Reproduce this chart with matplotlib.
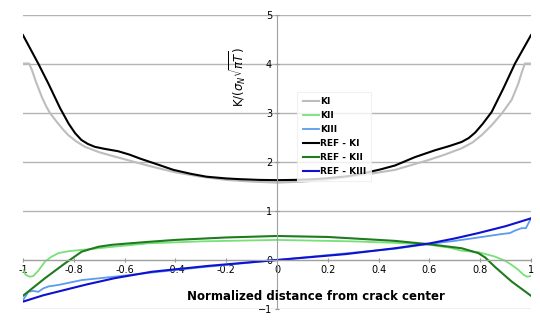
import matplotlib
matplotlib.use('Agg')
import matplotlib.pyplot as plt

# KI (computed)
ki_x = [-1, -0.976, -0.965, -0.95, -0.926, -0.91, -0.894, -0.867, -0.845, -0.822, -0.79, -0.756,
        -0.7, -0.638, -0.56, -0.488, -0.4, -0.3, -0.2, -0.1, 0,
        0.1, 0.2, 0.3, 0.38, 0.465, 0.53, 0.596, 0.66, 0.727, 0.77, 0.806, 0.845, 0.885,
        0.924, 0.95, 0.965, 0.976, 1]
ki_y = [4.01, 4.01, 3.88, 3.65, 3.33, 3.15, 3.0, 2.82, 2.68, 2.55, 2.42, 2.31,
        2.2, 2.11, 2.0, 1.90, 1.79, 1.70, 1.635, 1.6, 1.58,
        1.6, 1.64, 1.71, 1.77, 1.84, 1.94, 2.04, 2.15, 2.28, 2.4, 2.55, 2.75, 2.99,
        3.27, 3.6, 3.85, 4.01, 4.01]

# KII
kii_x = [-1, -0.99, -0.975, -0.96, -0.94, -0.913, -0.89, -0.861, -0.82, -0.782, -0.72, -0.665,
         -0.507, -0.3, 0, 0.3, 0.465, 0.602, 0.68, 0.727, 0.793, 0.858, 0.9, 0.924, 0.95,
         0.97, 0.985, 1]
kii_y = [-0.2, -0.3, -0.34, -0.33, -0.22, -0.03, 0.06, 0.14, 0.18, 0.20, 0.23, 0.26,
         0.34, 0.38, 0.41, 0.38, 0.35, 0.31, 0.25, 0.19, 0.16, 0.07, -0.02, -0.10, -0.2,
         -0.30, -0.34, -0.33]

# KIII
kiii_x = [-1, -0.979, -0.96, -0.94, -0.92, -0.90, -0.861, -0.769, -0.638, -0.5, -0.3, 0,
          0.3, 0.465, 0.602, 0.7, 0.793, 0.885, 0.917, 0.937, 0.963, 0.98, 1]
kiii_y = [-0.82, -0.65, -0.63, -0.65, -0.58, -0.54, -0.51, -0.41, -0.34, -0.26, -0.15, 0.0,
          0.15, 0.23, 0.33, 0.39, 0.46, 0.53, 0.55, 0.60, 0.65, 0.65, 0.85]

# reference solutions
ref_ki_x = [-1, -0.97, -0.94, -0.9, -0.854, -0.82, -0.795, -0.77, -0.745, -0.717, -0.68,
            -0.625, -0.58, -0.539, -0.47, -0.408, -0.34, -0.277, -0.2, -0.146, -0.07, 0,
            0.07, 0.146, 0.2, 0.277, 0.34, 0.408, 0.465, 0.543, 0.622, 0.681, 0.727,
            0.755, 0.78, 0.81, 0.845, 0.891, 0.937, 1]
ref_ki_y = [4.59, 4.3, 4.01, 3.6, 3.1, 2.78, 2.59, 2.45, 2.37, 2.31, 2.27,
            2.22, 2.15, 2.07, 1.95, 1.84, 1.76, 1.70, 1.665, 1.65, 1.635, 1.63,
            1.635, 1.65, 1.67, 1.71, 1.77, 1.85, 1.93, 2.10, 2.24, 2.33, 2.41,
            2.49, 2.6, 2.78, 3.02, 3.5, 4.01, 4.59]

ref_kii_x = [-1, -0.913, -0.835, -0.769, -0.73, -0.703, -0.65, -0.58, -0.507, -0.4, -0.2, 0,
             0.2, 0.4, 0.465, 0.602, 0.727, 0.793, 0.82, 0.858, 0.924, 1]
ref_kii_y = [-0.73, -0.37, -0.07, 0.17, 0.23, 0.27, 0.31, 0.34, 0.37, 0.41, 0.46, 0.49,
             0.47, 0.41, 0.39, 0.32, 0.24, 0.14, 0.05, -0.14, -0.44, -0.73]

ref_kiii_x = [-1, -0.92, -0.835, -0.75, -0.638, -0.493, -0.27, 0, 0.27, 0.465, 0.602,
              0.7, 0.793, 0.9, 1]
ref_kiii_y = [-0.85, -0.72, -0.61, -0.5, -0.37, -0.24, -0.12, 0, 0.12, 0.24, 0.34,
              0.44, 0.55, 0.69, 0.85]

x_ticks = [-1, -0.8, -0.6, -0.4, -0.2, 0, 0.2, 0.4, 0.6, 0.8, 1]
x_tick_labels = ['-1', '-0.8', '-0.6', '-0.4', '-0.2', '0', '0.2', '0.4', '0.6', '0.8', '1']
y_ticks = [-1, 0, 1, 2, 3, 4, 5]

fig = plt.figure(figsize=(5.4, 3.31), dpi=100)
ax = fig.add_axes([0.0426, 0.0665, 0.9407, 0.888])

ax.plot(ki_x, ki_y, color='#bdbdbd', lw=1.5, label='KI')
ax.plot(kii_x, kii_y, color='#77e077', lw=1.3, label='KII')
ax.plot(kiii_x, kiii_y, color='#5b9bf0', lw=1.3, label='KIII')
ax.plot(ref_ki_x, ref_ki_y, color='black', lw=1.5, label='REF - KI')
ax.plot(ref_kii_x, ref_kii_y, color='#1e7b1e', lw=1.5, label='REF - KII')
ax.plot(ref_kiii_x, ref_kiii_y, color='#1010d0', lw=1.5, label='REF - KIII')

ax.set_xlim(-1, 1)
ax.set_ylim(-1, 5)
ax.set_xticks(x_ticks)
ax.set_xticklabels(x_tick_labels)
ax.set_yticks(y_ticks)

ax.yaxis.grid(True, color='#b4b4b4', lw=1)
ax.set_axisbelow(True)
for s in ['top', 'right']:
    ax.spines[s].set_visible(False)
ax.spines['left'].set_position(('data', 0))
ax.spines['bottom'].set_position(('data', 0))
ax.spines['left'].set_color('#a0a0a0')
ax.spines['bottom'].set_color('#a0a0a0')
ax.tick_params(axis='both', labelsize=7, color='#909090', length=3, direction='inout', pad=2)

ax.text(-0.157, 3.73, r'K/($\sigma_N\sqrt{\pi T}$)', rotation=90, fontsize=8.5,
        ha='center', va='center')
ax.text(0.154, -0.755, 'Normalized distance from crack center', fontsize=8.5,
        fontweight='bold', ha='center', va='center')

leg = ax.legend(loc='upper left', bbox_to_anchor=(0.531, 0.755), prop={'weight': 'bold', 'size': 6.5},
                handlelength=1.8, handletextpad=0.1, labelspacing=0.55, borderpad=0.6,
                frameon=True, fancybox=False)
leg.get_frame().set_edgecolor('#eeeeee')
leg.get_frame().set_linewidth(0.8)

plt.savefig('out.png', dpi=100)
